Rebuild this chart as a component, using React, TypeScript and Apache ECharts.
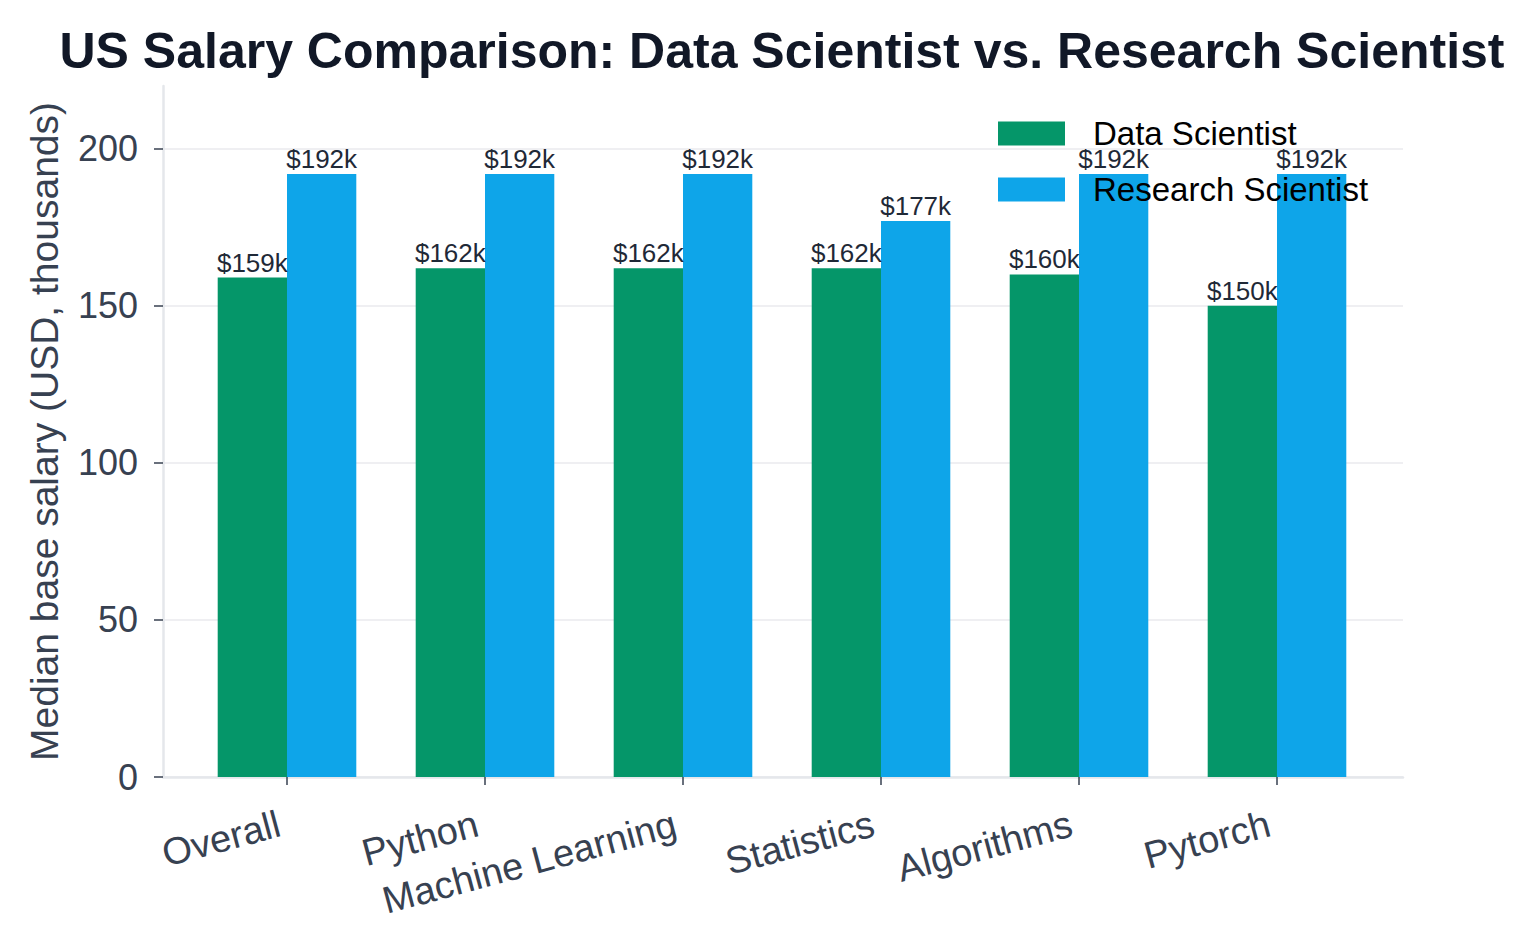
import React, { useEffect, useRef } from "react";
import * as echarts from "echarts";

const categories = ["Overall", "Python", "Machine Learning", "Statistics", "Algorithms", "Pytorch"];
const dataScientist = [159, 162, 162, 162, 160, 150];
const researchScientist = [192, 192, 192, 177, 192, 192];
const yTicks = [0, 50, 100, 150, 200];
const seriesNames = ["Data Scientist", "Research Scientist"];

const FONT = "'Liberation Sans', Arial, Helvetica, sans-serif";
const GREEN = "#059669";
const BLUE = "#0ea5e9";
const AXIS_TEXT = "#374151";
const SPINE = "#e5e7eb";

export default function App() {
  const ref = useRef<HTMLDivElement>(null);
  useEffect(() => {
    if (!ref.current) return;
    const chart = echarts.init(ref.current, undefined, { renderer: "svg" });
    const labelOpt = {
      show: true,
      position: "top",
      distance: 2,
      fontSize: 26,
      fontFamily: FONT,
      color: "#1f2937",
      formatter: (p: any) => "$" + p.value + "k",
    };
    chart.setOption({
      animation: false,
      backgroundColor: "#ffffff",
      textStyle: { fontFamily: FONT },
      graphic: [
        {
          type: "text",
          x: 782,
          y: 51,
          style: {
            text: "US Salary Comparison: Data Scientist vs. Research Scientist",
            font: `bold 50px ${FONT}`,
            fill: "#111827",
            textAlign: "center",
            textVerticalAlign: "middle",
          },
        },
      ],
      legend: {
        data: seriesNames,
        orient: "vertical",
        left: 998,
        top: 117,
        padding: 0,
        itemWidth: 67,
        itemHeight: 24,
        itemGap: 23,
        icon: "rect",
        textStyle: {
          fontSize: 33,
          lineHeight: 33,
          color: "#000000",
          fontFamily: FONT,
          padding: [0, 0, 0, 23],
        },
      },
      grid: [
        { left: 163, right: 122, top: 86, bottom: 165 },
        { left: 188, right: 149, top: 86, bottom: 165 },
      ],
      xAxis: [
        {
          gridIndex: 0,
          type: "value",
          min: 0,
          max: 1,
          axisLine: { show: true, lineStyle: { color: SPINE, width: 2.5 } },
          axisTick: { show: false },
          axisLabel: { show: false },
          splitLine: { show: false },
        },
        {
          gridIndex: 1,
          type: "category",
          data: categories,
          boundaryGap: true,
          axisLine: { show: false },
          axisTick: {
            show: true,
            alignWithLabel: true,
            length: 8,
            lineStyle: { color: AXIS_TEXT, width: 1.5 },
          },
          axisLabel: {
            rotate: 15,
            fontSize: 38,
            color: AXIS_TEXT,
            margin: 44,
            padding: [0, 8, 0, 0],
            interval: 0,
            fontFamily: FONT,
          },
          splitLine: { show: false },
        },
      ],
      yAxis: [
        {
          gridIndex: 0,
          type: "value",
          min: 0,
          max: 220,
          interval: 50,
          name: "Median base salary (USD, thousands)",
          nameLocation: "middle",
          nameGap: 99,
          nameTextStyle: { fontSize: 39, color: AXIS_TEXT, fontFamily: FONT },
          axisLine: { show: true, lineStyle: { color: SPINE, width: 2.5 } },
          axisTick: {
            show: true,
            length: 9,
            lineStyle: { color: AXIS_TEXT, width: 1.5 },
            customValues: yTicks,
          },
          axisLabel: {
            fontSize: 36,
            color: AXIS_TEXT,
            margin: 25,
            fontFamily: FONT,
            customValues: yTicks,
          },
          splitLine: {
            show: true,
            lineStyle: { color: "#efeff2", width: 2 },
          },
        },
        {
          gridIndex: 1,
          type: "value",
          min: 0,
          max: 220,
          show: false,
          splitLine: { show: false },
        },
      ],
      series: [
        {
          name: seriesNames[0],
          type: "bar",
          xAxisIndex: 1,
          yAxisIndex: 1,
          data: dataScientist,
          barWidth: 69.3,
          barGap: "0%",
          itemStyle: { color: GREEN },
          label: labelOpt,
        },
        {
          name: seriesNames[1],
          type: "bar",
          xAxisIndex: 1,
          yAxisIndex: 1,
          data: researchScientist,
          barWidth: 69.3,
          barGap: "0%",
          itemStyle: { color: BLUE },
          label: labelOpt,
        },
      ],
    });
    return () => chart.dispose();
  }, []);
  return (
    <div
      ref={ref}
      style={{ position: "fixed", left: 0, top: 0, width: 1525, height: 942 }}
    />
  );
}
